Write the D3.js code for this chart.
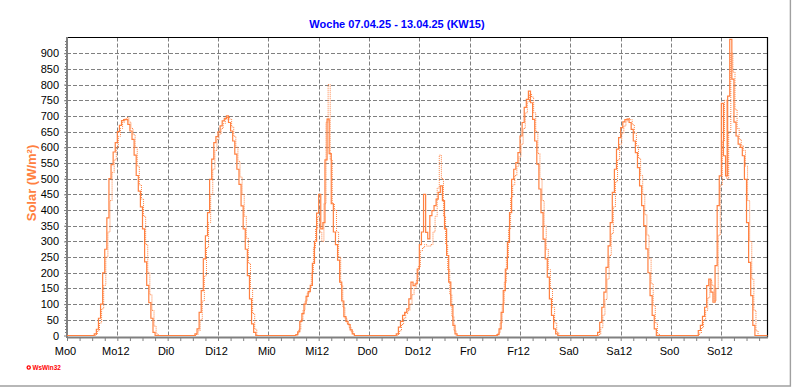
<!DOCTYPE html>
<html>
<head>
<meta charset="utf-8">
<script src="https://cdn.jsdelivr.net/npm/d3@7"></script>
<style>
  body { margin: 0; background: #fff; }
  svg { display: block; font-family: "Liberation Sans", Arial, sans-serif; }
</style>
</head>
<body>
<div id="chart"></div>
<script>
// Tick labels (every 12 hours)
const xTickLabels = ["Mo0", "Mo12", "Di0", "Di12", "Mi0", "Mi12", "Do0", "Do12",
                     "Fr0", "Fr12", "Sa0", "Sa12", "So0", "So12"];
const yTickValues = [0, 50, 100, 150, 200, 250, 300, 350, 400, 450, 500,
                     550, 600, 650, 700, 750, 800, 850, 900];

// Solar (W/m²), half-hourly values per day, solid line starts 06:00
const solidMo = [0, 5, 20, 55, 100, 200, 275, 375, 500, 545, 585, 615, 650, 670, 685, 688,
                 688, 673, 652, 625, 575, 510, 460, 410, 340, 235, 160, 105, 55, 10, 0, 0];
const solidDi = [0, 5, 21, 74, 143, 244, 318, 392, 498, 562, 615, 634, 649, 668, 684, 692,
                 700, 679, 652, 620, 578, 530, 482, 413, 340, 275, 191, 117, 37, 10, 0, 0];
const solidMi = [0, 2, 12, 45, 70, 100, 125, 140, 160, 230, 300, 390, 450, 340, 360, 560,
                 690, 580, 420, 330, 290, 240, 170, 110, 60, 45, 35, 18, 5, 0, 0, 0];
const solidDo = [0, 5, 27, 45, 64, 74, 85, 117, 170, 159, 165, 212, 290, 330, 450, 329,
                 308, 382, 398, 414, 435, 456, 477, 430, 340, 255, 170, 95, 32, 5, 0, 0];
const solidFr = [0, 3, 21, 74, 143, 212, 297, 392, 498, 530, 551, 583, 636, 679, 727, 753,
                 779, 742, 689, 620, 546, 467, 392, 307, 244, 186, 117, 64, 21, 5, 0, 0];
const solidSa = [0, 10, 42, 90, 138, 217, 286, 360, 456, 530, 594, 631, 663, 681, 688, 690,
                 679, 657, 620, 583, 535, 477, 414, 350, 276, 200, 127, 64, 21, 0, 0, 0];
const solidSo = [0, 16, 32, 61, 90, 159, 180, 138, 106, 223, 414, 509, 740, 573, 509, 763,
                 944, 817, 680, 636, 610, 600, 573, 498, 360, 233, 127, 32, 0, 0, 0, 0];

// dotted line, half-hourly values per day, starts 06:15
const dottedMo = [0, 3, 15, 40, 85, 160, 250, 330, 430, 520, 560, 600, 635, 660, 680, 690,
                  695, 680, 660, 640, 600, 540, 480, 435, 380, 290, 200, 130, 80, 30, 5, 0];
const dottedDi = [0, 3, 15, 50, 110, 190, 280, 360, 450, 530, 590, 625, 642, 660, 676, 690,
                  698, 690, 665, 635, 600, 555, 505, 450, 380, 310, 230, 150, 70, 20, 0, 0];
const dottedMi = [0, 5, 20, 50, 80, 110, 135, 150, 200, 280, 340, 380, 330, 300, 420, 680,
                  800, 560, 420, 400, 330, 250, 160, 90, 55, 38, 25, 12, 3, 0, 0, 0];
const dottedDo = [0, 3, 15, 35, 55, 70, 80, 100, 130, 150, 175, 220, 270, 280, 290, 285,
                  285, 290, 330, 380, 470, 575, 500, 380, 290, 210, 130, 60, 15, 0, 0, 0];
const dottedFr = [0, 8, 40, 100, 170, 250, 340, 440, 480, 510, 540, 570, 610, 660, 710, 745,
                  770, 760, 710, 650, 580, 500, 430, 350, 275, 210, 150, 90, 40, 10, 0, 0];
const dottedSa = [0, 3, 25, 65, 115, 180, 255, 325, 410, 490, 560, 610, 645, 668, 684, 692,
                  688, 672, 645, 605, 565, 510, 450, 385, 320, 245, 165, 95, 40, 5, 0, 0];
const dottedSo = [0, 8, 25, 50, 80, 120, 175, 160, 110, 150, 320, 480, 620, 750, 500, 650,
                  900, 840, 720, 660, 625, 605, 590, 540, 430, 300, 180, 80, 15, 0, 0, 0];

const solidStart = 6;
const dottedStart = 6.25;
const lastHour = 167;

function buildSeries(days, start) {
    const pts = [{h: 0, v: 0}];
    days.forEach((vals, d) => {
        vals.forEach((v, i) => pts.push({h: d * 24 + start + i * 0.5, v: v}));
    });
    pts.push({h: lastHour, v: 0});
    return pts;
}

const solidData = buildSeries([solidMo, solidDi, solidMi, solidDo, solidFr, solidSa, solidSo], solidStart);
const dottedData = buildSeries([dottedMo, dottedDi, dottedMi, dottedDo, dottedFr, dottedSa, dottedSo], dottedStart);

// Set up dimensions
const width = 792, height = 387;
const plot = {left: 67, right: 767.5, top: 37.5, bottom: 335.5};
const orange = "#ff8040";
const gridColor = "#808080";

const svg = d3.select("#chart")
    .append("svg")
    .attr("width", width)
    .attr("height", height);

// Scales
const x = d3.scaleLinear().domain([0, lastHour]).range([plot.left, plot.right]);
const y = d3.scaleLinear().domain([0, 950]).range([plot.bottom, plot.top]);

// Grid
svg.append("g")
    .selectAll("line")
    .data(yTickValues.filter(d => d > 0))
    .enter().append("line")
    .attr("x1", plot.left).attr("x2", plot.right)
    .attr("y1", d => Math.round(y(d)) + 0.5).attr("y2", d => Math.round(y(d)) + 0.5)
    .attr("stroke", gridColor)
    .attr("stroke-dasharray", "4,2");

svg.append("g")
    .selectAll("line")
    .data(d3.range(12, lastHour, 12))
    .enter().append("line")
    .attr("x1", d => Math.round(x(d)) + 0.5).attr("x2", d => Math.round(x(d)) + 0.5)
    .attr("y1", plot.top).attr("y2", plot.bottom)
    .attr("stroke", gridColor)
    .attr("stroke-dasharray", "4,2");

// Frame top / right
svg.append("path")
    .attr("d", `M${plot.left},${plot.top}H${plot.right}V${plot.bottom + 2}`)
    .attr("fill", "none")
    .attr("stroke", "#000")
    .attr("stroke-width", 1.2);

// X axis
const xAxis = svg.append("g")
    .attr("transform", "translate(0,337)")
    .call(d3.axisBottom(x)
        .tickValues(d3.range(0, lastHour, 3))
        .tickSize(4)
        .tickSizeOuter(0)
        .tickPadding(6)
        .tickFormat(d => d % 12 === 0 ? xTickLabels[d / 12] : ""));
xAxis.select(".domain").attr("stroke", gridColor).attr("stroke-width", 2);
xAxis.selectAll(".tick line").attr("stroke", gridColor);
xAxis.selectAll("text")
    .attr("font-size", 11)
    .attr("font-family", "Liberation Sans, Arial, sans-serif")
    .attr("fill", "#000")
    .attr("dx", "-2");

// Y axis
const yAxis = svg.append("g")
    .attr("transform", `translate(${plot.left},0)`)
    .call(d3.axisLeft(y)
        .tickValues(yTickValues)
        .tickSize(3)
        .tickSizeOuter(0)
        .tickPadding(5));
yAxis.select(".domain").remove();
yAxis.selectAll(".tick line").attr("stroke", gridColor);
yAxis.selectAll("text")
    .attr("font-size", 11)
    .attr("font-family", "Liberation Sans, Arial, sans-serif")
    .attr("fill", "#000");

// minor y ticks
svg.append("g")
    .selectAll("line")
    .data(d3.range(10, 950, 10))
    .enter().append("line")
    .attr("x1", plot.left - 2).attr("x2", plot.left)
    .attr("y1", d => Math.round(y(d)) + 0.5).attr("y2", d => Math.round(y(d)) + 0.5)
    .attr("stroke", gridColor);

svg.append("line")
    .attr("x1", plot.left).attr("x2", plot.left)
    .attr("y1", plot.top - 0.5).attr("y2", 338)
    .attr("stroke", gridColor)
    .attr("stroke-width", 2);

// Lines
const line = d3.line()
    .x(d => x(d.h))
    .y(d => y(d.v))
    .curve(d3.curveStepAfter);

svg.append("path")
    .datum(dottedData)
    .attr("fill", "none")
    .attr("stroke", orange)
    .attr("stroke-width", 1)
    .attr("stroke-dasharray", "1,1")
    .attr("d", line);

svg.append("path")
    .datum(solidData)
    .attr("fill", "none")
    .attr("stroke", orange)
    .attr("stroke-width", 1.2)
    .attr("d", line);

// Title
svg.append("text")
    .attr("x", 397)
    .attr("y", 28)
    .attr("text-anchor", "middle")
    .attr("font-size", 11)
    .attr("font-weight", "bold")
    .attr("fill", "#0000ff")
    .text("Woche 07.04.25 - 13.04.25 (KW15)");

// Y axis title
svg.append("text")
    .attr("transform", "translate(36,183) rotate(-90)")
    .attr("text-anchor", "middle")
    .attr("font-size", 13)
    .attr("font-weight", "bold")
    .attr("fill", orange)
    .text("Solar (W/m²)");

// Logo
svg.append("circle")
    .attr("cx", 28.7).attr("cy", 367.5).attr("r", 1.6)
    .attr("fill", "#fff")
    .attr("stroke", "#ff0000")
    .attr("stroke-width", 1.3);
svg.append("text")
    .attr("x", 32.5)
    .attr("y", 369.6)
    .attr("font-size", 6.4)
    .attr("font-weight", "bold")
    .attr("fill", "#ff0000")
    .text("WsWin32");

// Window edge
svg.append("path")
    .attr("d", `M0,386H790.4V0`)
    .attr("fill", "none")
    .attr("stroke", "#a0a0a0")
    .attr("stroke-width", 1.4);
</script>
</body>
</html>
